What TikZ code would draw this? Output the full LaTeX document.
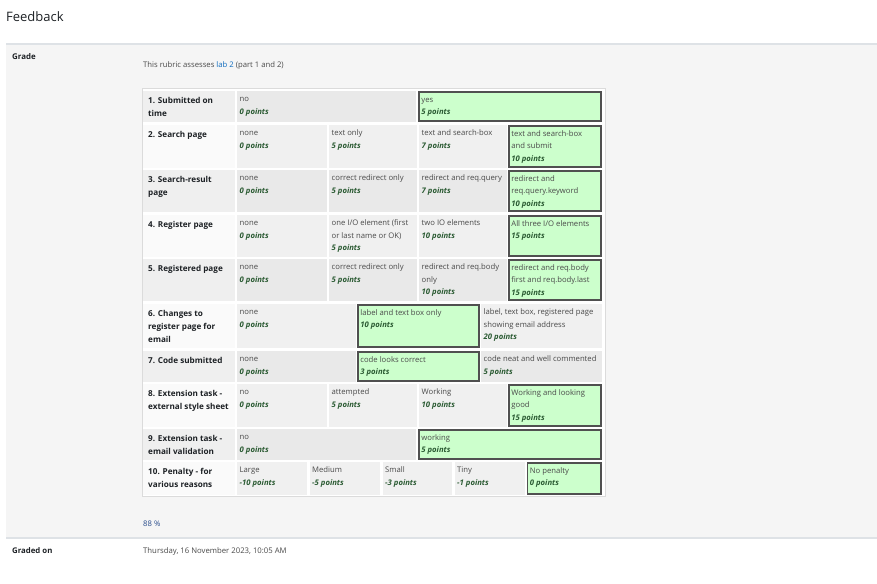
\documentclass[tikz,border=0pt]{standalone}
\usepackage{fontspec}
\setmainfont{Open Sans}
\definecolor{txt}{HTML}{1D2125}
\definecolor{deftxt}{HTML}{4A4A4A}
\definecolor{ptscol}{HTML}{2A5A32}
\definecolor{panel}{HTML}{F5F5F5}
\definecolor{rule}{HTML}{DEE2E6}
\definecolor{linkc}{HTML}{0F6CBF}
\definecolor{pctc}{HTML}{2A4D8C}
\definecolor{oddlv}{HTML}{E9E9E9}
\definecolor{oddcr}{HTML}{EFEFEF}
\definecolor{evenlv}{HTML}{F0F0F0}
\definecolor{evencr}{HTML}{FAFAFA}
\definecolor{selfill}{HTML}{CCFFCC}
\definecolor{selbord}{HTML}{505050}
\newcommand\pts[1]{{\color{ptscol}\bfseries\itshape #1}}
\newcommand\crit[5]{\fill[#4] (143,#2) rectangle (235,#3);
  \node[crittext] (#1) at (148,#2+3.4) {\strut #5};}
\newcommand\lvl[7]{\fill[#6] (#2,#4) rectangle (#3,#5);
  \node[lvtext] (#1) at (#2+2.5,#4+1.75) {\strut #7};}
\newcommand\selv[6]{\fill[selfill] (#2,#4) rectangle (#3,#5);
  \draw[selb] (#2+0.8,#4+0.8) rectangle (#3-0.8,#5-0.8);
  \node[lvtext] (#1) at (#2+3.2,#4+2.2) {\strut #6};}
\begin{document}
\begin{tikzpicture}[x=1pt,y=-1pt,
  lvtext/.style={anchor=north west,inner sep=0pt,align=left,text=deftxt,font=\fontsize{7.7}{12.5}\selectfont},
  crittext/.style={anchor=north west,inner sep=0pt,align=left,text=txt,font=\fontsize{8.15}{13}\selectfont\bfseries},
  plain/.style={anchor=base west,inner sep=0pt,text=txt},
  selb/.style={draw=selbord,line width=1.6pt}]
\useasboundingbox (0,0) rectangle (877,583);
\fill[white] (0,0) rectangle (877,583);
\fill[panel] (6,44) rectangle (877,537);
\fill[rule] (6,43) rectangle (877,45);
\fill[rule] (6,537) rectangle (877,538.5);
\node[plain,font=\fontsize{13}{15}\selectfont] (title) at (6,21.5) {Feedback};
\node[plain,font=\fontsize{7.9}{9}\selectfont\bfseries] (grade) at (12,60) {Grade};
\node[plain,font=\fontsize{7.7}{9}\selectfont,text=deftxt] (intro) at (143,68) {This rubric assesses \textcolor{linkc}{lab 2} (part 1 and 2)};
% table frame
\filldraw[fill=white,draw=black!14,line width=0.8pt] (142,88.5) rectangle (605.5,496.5);
% row 1
\crit{c1}{91}{122}{oddcr}{1. Submitted on\\time}
\lvl{l1a}{237}{416}{91}{122}{oddlv}{no\\\pts{0 points}}
\selv{l1b}{418}{602}{91}{122}{yes\\\pts{5 points}}
% row 2
\crit{c2}{125}{168}{evencr}{2. Search page}
\lvl{l2a}{237}{327}{125}{168}{evenlv}{none\\\pts{0 points}}
\lvl{l2b}{329}{417}{125}{168}{evenlv}{text only\\\pts{5 points}}
\lvl{l2c}{419}{507}{125}{168}{evenlv}{text and search-box\\\pts{7 points}}
\selv{l2d}{508}{602}{125}{168}{text and search-box\\and submit\\\pts{10 points}}
% row 3
\crit{c3}{170}{212}{oddcr}{3. Search-result\\page}
\lvl{l3a}{237}{327}{170}{212}{oddlv}{none\\\pts{0 points}}
\lvl{l3b}{329}{417}{170}{212}{oddlv}{correct redirect only\\\pts{5 points}}
\lvl{l3c}{419}{507}{170}{212}{oddlv}{redirect and req.query\\\pts{7 points}}
\selv{l3d}{508}{602}{170}{212}{redirect and\\req.query.keyword\\\pts{10 points}}
% row 4
\crit{c4}{215}{257}{evencr}{4. Register page}
\lvl{l4a}{237}{327}{215}{257}{evenlv}{none\\\pts{0 points}}
\lvl{l4b}{329}{417}{215}{257}{evenlv}{one I/O element (first\\or last name or OK)\\\pts{5 points}}
\lvl{l4c}{419}{507}{215}{257}{evenlv}{two IO elements\\\pts{10 points}}
\selv{l4d}{508}{602}{215}{257}{All three I/O elements\\\pts{15 points}}
% row 5
\crit{c5}{259}{301}{oddcr}{5. Registered page}
\lvl{l5a}{237}{327}{259}{301}{oddlv}{none\\\pts{0 points}}
\lvl{l5b}{329}{417}{259}{301}{oddlv}{correct redirect only\\\pts{5 points}}
\lvl{l5c}{419}{507}{259}{301}{oddlv}{redirect and req.body\\only\\\pts{10 points}}
\selv{l5d}{508}{602}{259}{301}{redirect and req.body\\first and req.body.last\\\pts{15 points}}
% row 6
\crit{c6}{304}{348}{evencr}{6. Changes to\\register page for\\email}
\lvl{l6a}{237}{356}{304}{348}{evenlv}{none\\\pts{0 points}}
\selv{l6b}{357}{480}{304}{348}{label and text box only\\\pts{10 points}}
\lvl{l6c}{481}{602}{304}{348}{evenlv}{label, text box, registered page\\showing email address\\\pts{20 points}}
% row 7
\crit{c7}{351}{382}{oddcr}{7. Code submitted}
\lvl{l7a}{237}{356}{351}{382}{oddlv}{none\\\pts{0 points}}
\selv{l7b}{357}{480}{351}{382}{code looks correct\\\pts{3 points}}
\lvl{l7c}{481}{602}{351}{382}{oddlv}{code neat and well commented\\\pts{5 points}}
% row 8
\crit{c8}{384}{427}{evencr}{8. Extension task -\\external style sheet}
\lvl{l8a}{237}{327}{384}{427}{evenlv}{no\\\pts{0 points}}
\lvl{l8b}{329}{417}{384}{427}{evenlv}{attempted\\\pts{5 points}}
\lvl{l8c}{419}{507}{384}{427}{evenlv}{Working\\\pts{10 points}}
\selv{l8d}{508}{602}{384}{427}{Working and looking\\good\\\pts{15 points}}
% row 9
\crit{c9}{429}{460}{oddcr}{9. Extension task -\\email validation}
\lvl{l9a}{237}{416}{429}{460}{oddlv}{no\\\pts{0 points}}
\selv{l9b}{418}{602}{429}{460}{working\\\pts{5 points}}
% row 10
\crit{c10}{462}{495}{evencr}{10. Penalty - for\\various reasons}
\lvl{l10a}{237}{307}{462}{495}{evenlv}{Large\\\pts{-10 points}}
\lvl{l10b}{309.5}{380}{462}{495}{evenlv}{Medium\\\pts{-5 points}}
\lvl{l10c}{382.5}{452}{462}{495}{evenlv}{Small\\\pts{-3 points}}
\lvl{l10d}{454.5}{524.5}{462}{495}{evenlv}{Tiny\\\pts{-1 points}}
\selv{l10e}{526.5}{602}{462}{495}{No penalty\\\pts{0 points}}
% footer
\node[plain,font=\fontsize{7.7}{9}\selectfont,text=pctc] (pct) at (143,526) {88 \%};
\node[plain,font=\fontsize{7.8}{9}\selectfont\bfseries] (gradedon) at (12,553) {Graded on};
\node[plain,font=\fontsize{7.75}{9}\selectfont,text=deftxt] (date) at (143,553) {Thursday, 16 November 2023, 10:05 AM};
\end{tikzpicture}
\end{document}
